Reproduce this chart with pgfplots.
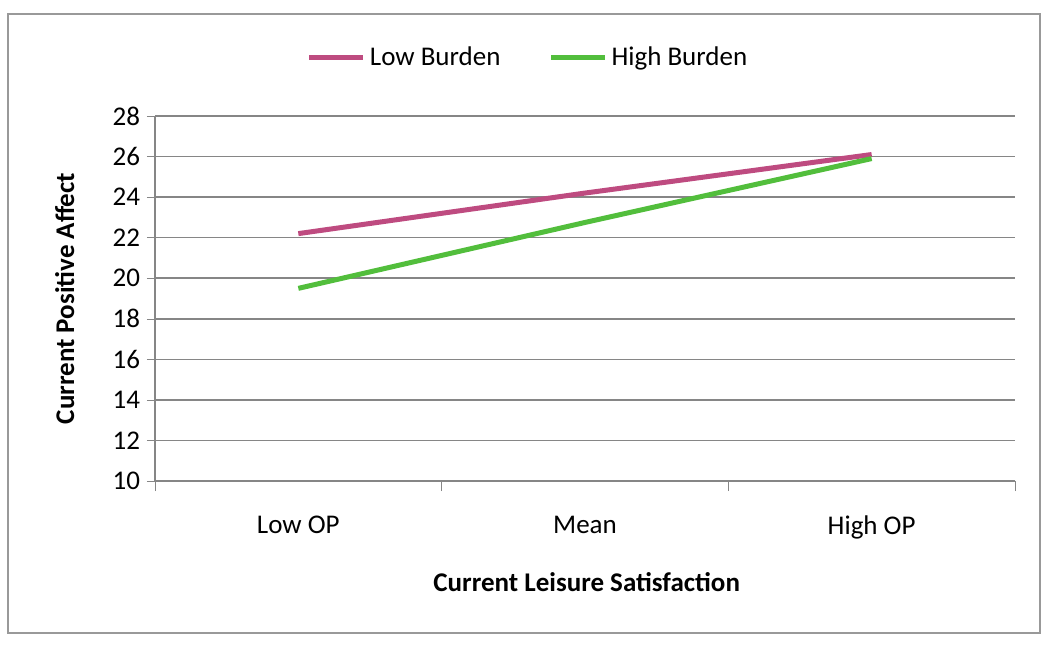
\documentclass[border=0pt]{standalone}
\usepackage{pgfplots}
\pgfplotsset{compat=1.18}
\usepackage{fontspec}
\setmainfont{Carlito}
\definecolor{lowb}{RGB}{190,75,128}
\definecolor{highb}{RGB}{82,190,60}
\definecolor{gridg}{RGB}{134,134,134}
\begin{document}
\begin{tikzpicture}
\useasboundingbox (0,0) rectangle (525pt,322pt);
\draw[color=gray!80, line width=1pt] (4pt,5.5pt) rectangle (520pt,315pt);
\begin{axis}[
  at={(77.5pt,81.5pt)}, anchor=origin,
  scale only axis, width=430pt, height=182.5pt,
  xmin=0, xmax=3, ymin=10, ymax=28,
  ytick={10,12,...,28},
  xtick={0.5,1.5,2.5},
  xticklabels={Low OP, Mean, High OP},
  major x tick style={draw=none},
  extra x ticks={0,1,2,3},
  extra x tick labels={},
  extra x tick style={major tick length=5pt, tick align=outside, grid=none, major x tick style={draw=gridg}},
  axis x line*=bottom, axis y line*=left,
  axis line style={draw=gridg, line width=0.8pt},
  ymajorgrids, grid style={draw=gridg, line width=0.8pt},
  y tick style={draw=gridg},
  tick align=outside, major tick length=4pt,
  tick label style={font=\fontsize{13.5}{15}\selectfont, /pgf/number format/assume math mode=true},
  xticklabel style={yshift=-10pt},
  xlabel={\bfseries Current Leisure Satisfaction},
  ylabel={\bfseries Current Positive Affect},
  label style={font=\fontsize{13.5}{15}\selectfont},
  xlabel style={at={(axis description cs:0.502,-0.277)}, anchor=center},
  ylabel style={at={(axis description cs:-0.105,0.5)}, anchor=center},
  legend style={at={(axis description cs:0.435,1.16)}, anchor=center, draw=none, fill=none,
    font=\fontsize{13.5}{15}\selectfont, legend columns=2,
    /tikz/every even column/.append style={column sep=22pt}},
  legend image code/.code={\draw[#1, line width=2.5pt] (0pt,0pt) -- (27pt,0pt);},
]
\addplot[lowb, line width=2.5pt] coordinates {(0.5,22.2) (1.5,24.2) (2.5,26.1)};
\addlegendentry{Low Burden}
\addplot[highb, line width=2.5pt] coordinates {(0.5,19.5) (1.5,22.75) (2.5,25.9)};
\addlegendentry{High Burden}
\end{axis}
\end{tikzpicture}
\end{document}
